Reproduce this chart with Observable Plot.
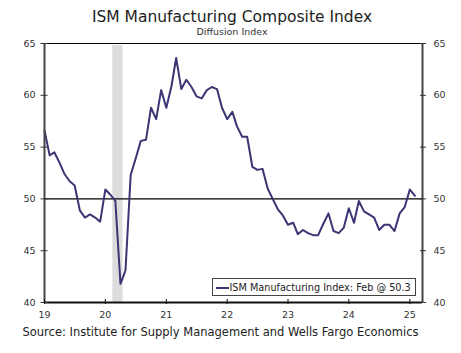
<!DOCTYPE html>
<html>
<head>
<meta charset="utf-8">
<script src="https://cdn.jsdelivr.net/npm/d3@7"></script>
<script src="https://cdn.jsdelivr.net/npm/@observablehq/plot@0.6"></script>
<style>
  html, body { margin: 0; padding: 0; background: #fff; }
  #wrap { position: relative; width: 461px; height: 353px; font-family: "DejaVu Sans", Verdana, sans-serif; color: #222; overflow: hidden; }
  .t { position: absolute; left: 0; width: 461px; text-align: center; line-height: 1; white-space: nowrap; }
  #title { top: 10px; font-size: 15.5px; color: #222; padding-left: 3px; box-sizing: border-box; }
  #subtitle { top: 26.5px; font-size: 9.5px; color: #333; padding-left: 3px; box-sizing: border-box; }
  #chart { position: absolute; left: 0; top: 38px; }
  #legend { position: absolute; left: 212px; top: 278px; width: 202px; height: 16px; border: 1px solid #444; background: #fff; font-size: 9.7px; line-height: 16px; white-space: nowrap; color: #222; }
  #legend .sw { position: absolute; left: 2.5px; top: 7.5px; width: 13px; height: 2px; background: #3a3573; }
  #legend .lb { position: absolute; left: 16.5px; top: 0.5px; }
  #caption { position: absolute; left: 22.5px; top: 327.3px; font-size: 11.5px; line-height: 1; white-space: nowrap; color: #222; }
</style>
</head>
<body>
<div id="wrap">
  <div id="title" class="t"></div>
  <div id="subtitle" class="t"></div>
  <div id="chart"></div>
  <div id="legend"><span class="sw"></span><span class="lb"></span></div>
  <div id="caption"></div>
</div>
<script>
// ---- Data ----
const titleText = "ISM Manufacturing Composite Index";
const subtitleText = "Diffusion Index";
const captionText = "Source: Institute for Supply Management and Wells Fargo Economics";
const seriesName = "ISM Manufacturing Index";
const lastMonthLabel = "Feb";

// Monthly values, Jan 2019 – Feb 2025
const ism2019 = [56.6, 54.2, 54.5, 53.5, 52.4, 51.7, 51.3, 48.9, 48.2, 48.5, 48.2, 47.8];
const ism2020 = [50.9, 50.4, 49.8, 41.8, 43.1, 52.3, 53.9, 55.6, 55.7, 58.8, 57.7, 60.5];
const ism2021 = [58.8, 60.9, 63.6, 60.6, 61.5, 60.8, 59.9, 59.7, 60.5, 60.8, 60.6, 58.8];
const ism2022 = [57.7, 58.4, 57.0, 56.0, 56.0, 53.1, 52.8, 52.9, 51.0, 50.0, 49.0, 48.4];
const ism2023 = [47.5, 47.7, 46.6, 47.0, 46.7, 46.5, 46.5, 47.6, 48.6, 46.9, 46.7, 47.2];
const ism2024 = [49.1, 47.7, 49.8, 48.8, 48.5, 48.2, 47.0, 47.5, 47.5, 46.9, 48.6, 49.2];
const ism2025 = [50.9, 50.3];
const ismValues = [...ism2019, ...ism2020, ...ism2021, ...ism2022, ...ism2023, ...ism2024, ...ism2025];

const firstMonth = new Date(Date.UTC(2019, 0, 1));
const months = d3.utcMonths(firstMonth, new Date(Date.UTC(2025, 2, 1)));
const xDomain = [firstMonth, new Date(Date.UTC(2025, 2, 18))];

const recessionStart = [new Date(Date.UTC(2020, 1, 15))];
const recessionEnd = [new Date(Date.UTC(2020, 3, 16))];

const yDomain = [40, 65];
const yTicks = [40, 45, 50, 55, 60, 65];
const xTickYears = [2019, 2020, 2021, 2022, 2023, 2024, 2025];
const referenceLevel = [50];

// ---- Build ----
const data = months.map((d, i) => ({date: d, value: ismValues[i]}));
const recessions = recessionStart.map((s, i) => ({start: s, end: recessionEnd[i]}));
const xTicks = xTickYears.map(y => new Date(Date.UTC(y, 0, 1)));
const fmtYY = d3.utcFormat("%y");

const lineColor = "#3a3573";

const chart = Plot.plot({
  width: 461,
  height: 285,
  marginTop: 5,
  marginBottom: 21,
  marginLeft: 44,
  marginRight: 39,
  style: {fontFamily: "DejaVu Sans, Verdana, sans-serif", fontSize: "9.5px", color: "#333", background: "transparent", overflow: "visible"},
  x: {type: "utc", domain: xDomain},
  y: {domain: yDomain},
  marks: [
    Plot.rect(recessions, {x1: "start", x2: "end", y1: () => yDomain[0], y2: () => yDomain[1] - 0.2, fill: "#dcdcdc"}),
    Plot.ruleY(referenceLevel, {stroke: "#000", strokeWidth: 1.1}),
    Plot.line(data, {x: "date", y: "value", stroke: lineColor, strokeWidth: 2, curve: "linear"}),
    Plot.ruleY([yDomain[1]], {stroke: "#000", strokeWidth: 1.2}),
    Plot.ruleX([xDomain[0]], {stroke: "#444", strokeWidth: 2}),
    Plot.ruleX([xDomain[1]], {stroke: "#444", strokeWidth: 2}),
    Plot.ruleY([yDomain[0]], {stroke: "#111", strokeWidth: 2}),
    // left axis
    Plot.axisY(yTicks, {anchor: "left", tickSize: 7, dx: 3.5, fill: "none", stroke: "#333", label: null}),
    Plot.axisY(yTicks, {anchor: "left", tickSize: 0, tickPadding: 9, fill: "#333", label: null}),
    // right axis
    Plot.axisY(yTicks, {anchor: "right", tickSize: 6, dx: -3, fill: "none", stroke: "#333", label: null}),
    Plot.axisY(yTicks, {anchor: "right", tickSize: 0, tickPadding: 11, fill: "#333", label: null}),
    // bottom axis
    Plot.axisX(xTicks, {anchor: "bottom", tickSize: 5, dy: -3, fill: "none", stroke: "#111", label: null}),
    Plot.axisX(xTicks, {anchor: "bottom", tickSize: 0, tickPadding: 8.5, tickFormat: d => fmtYY(d), fill: "#333", label: null})
  ]
});

document.getElementById("chart").appendChild(chart);
document.getElementById("title").textContent = titleText;
document.getElementById("subtitle").textContent = subtitleText;
document.getElementById("caption").textContent = captionText;
document.querySelector("#legend .lb").textContent = `${seriesName}: ${lastMonthLabel} @ ${ismValues[ismValues.length - 1].toFixed(1)}`;
</script>
</body>
</html>
